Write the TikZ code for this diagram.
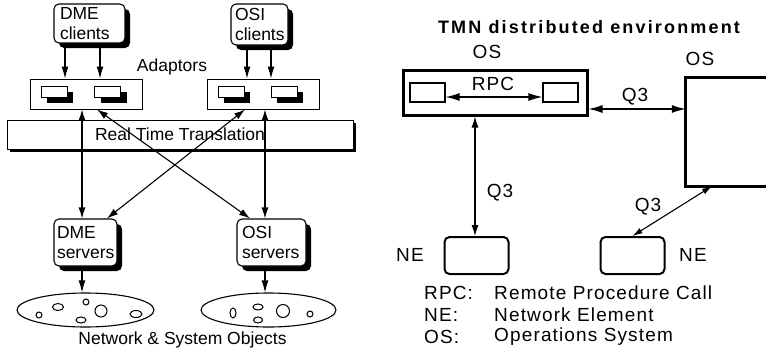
\documentclass[tikz,border=0pt]{standalone}
\usepackage{fontspec}
\setmainfont{Liberation Sans}
\newfontfamily\spaced[LetterSpace=6]{Liberation Sans}
\usetikzlibrary{arrows.meta,shadows,shapes.geometric}

\tikzset{
  lefttext/.style={font=\fontsize{17.5}{19.5}\selectfont},
  righttext/.style={font=\spaced\fontsize{19}{22}\selectfont},
  shadowbox/.style={draw, fill=white, rounded corners=5pt, align=left,
    inner ysep=0pt, line width=1.1pt,
    drop shadow={fill=black, opacity=1, shadow xshift=5pt, shadow yshift=-5pt}},
  adaptor/.style={draw, fill=white, line width=0.9pt, minimum width=112, minimum height=30},
  plug/.style={draw, fill=white, line width=1pt, minimum width=26, minimum height=11, inner sep=0pt,
    drop shadow={fill=black, opacity=1, shadow xshift=6pt, shadow yshift=-6pt, rounded corners=0pt}},
  objset/.style={draw, ellipse, line width=1.1pt, inner sep=0pt},
  osbox/.style={draw, line width=3pt, inner sep=0pt},
  oswide/.style={line width=3pt, line cap=rect},
  nebox/.style={draw, line width=2pt, rounded corners=5pt, inner sep=0pt, minimum width=64, minimum height=37},
  rpcbox/.style={draw, line width=1.1pt, minimum width=35, minimum height=19, inner sep=0pt},
  arr/.style={line width=1.1pt, -{Latex[length=12pt,width=7pt]}},
  darr/.style={line width=1.1pt, {Latex[length=11pt,width=7pt]}-{Latex[length=11pt,width=7pt]}},
  warr/.style={line width=1.3pt, {Latex[length=14pt,width=8pt]}-{Latex[length=14pt,width=8pt]}},
}

\begin{document}
\begin{tikzpicture}[x=1pt, y=-1pt]
\useasboundingbox (0,0) rectangle (766,354);
\clip (0,0) rectangle (766,354);

% ---------- DME / OSI integration ----------
\node[shadowbox, lefttext, minimum height=39, inner xsep=6pt, text width=59] (dmec) at (89.5,23.5) {DME\\clients};
\node[shadowbox, lefttext, minimum height=41, inner xsep=4pt, text width=49] (osic) at (259.5,24.5) {OSI\\clients};

\node[lefttext] (adlbl) at (172,67) {Adaptors};

\node[draw, fill=white, line width=0.9pt, minimum width=346, minimum height=29, lefttext,
  drop shadow={fill=black, opacity=1, shadow xshift=3pt, shadow yshift=-3pt}] (rtt) at (180,134.5) {Real Time Translation};

\node[adaptor] (adl) at (86,94) {};
\node[adaptor] (adr) at (263,94) {};
\node[plug] (p1) at (54,91.5) {};
\node[plug] (p2) at (107.5,91.5) {};
\node[plug] (p3) at (231,91.5) {};
\node[plug] (p4) at (284,91.5) {};

\node[shadowbox, lefttext, minimum height=47, inner xsep=3pt, text width=57] (dmes) at (85.5,242.5) {DME\\servers};
\node[shadowbox, lefttext, minimum height=47, inner xsep=5pt, text width=59] (osis) at (271.5,242.5) {OSI\\servers};

\node[objset, minimum width=137, minimum height=34] (objl) at (85.5,310) {};
\node[objset, minimum width=135, minimum height=34] (objr) at (268.5,310) {};

% objects inside the two sets
\begin{scope}[line width=1pt]
  \draw (39,315) circle [radius=3];
  \draw (58,307) ellipse [x radius=5.5, y radius=3.5];
  \draw (86,302) circle [radius=3];
  \draw (101,311) circle [radius=6];
  \draw (81,320) ellipse [x radius=5, y radius=3];
  \draw (136,314) ellipse [x radius=6, y radius=3.5];
  \draw (233,313) ellipse [x radius=3, y radius=5];
  \draw (258,307) ellipse [x radius=5, y radius=3];
  \draw (258,320) ellipse [x radius=4.5, y radius=3];
  \draw (283,311) circle [radius=6.5];
  \draw (310,314) circle [radius=3];
\end{scope}

\node[lefttext] (objlbl) at (182.5,340) {Network \& System Objects};

% clients to adaptors
\draw[arr] ([xshift=-24.5pt]dmec.south) -- ([xshift=-24.5pt]dmec.south |- adl.north);
\draw[arr] ([xshift=10.5pt]dmec.south) -- ([xshift=10.5pt]dmec.south |- adl.north);
\draw[arr] ([xshift=-12.5pt]osic.south) -- ([xshift=-12.5pt]osic.south |- adr.north);
\draw[arr] ([xshift=11.5pt]osic.south) -- ([xshift=11.5pt]osic.south |- adr.north);

% adaptors to servers, through the translation layer
\draw[darr] ([xshift=-3.5pt]dmes.north) -- ([xshift=-3.5pt]dmes.north |- adl.south);
\draw[darr] ([xshift=-6.5pt]osis.north) -- ([xshift=-6.5pt]osis.north |- adr.south);
\draw[darr] ([xshift=11pt]adl.south) -- ([xshift=-21.5pt]osis.north);
\draw[darr] ([xshift=-18pt]adr.south) -- ([xshift=21.5pt]dmes.north);

% servers to managed objects
\draw[arr] ([xshift=-3.5pt]dmes.south) -- ([xshift=-3.5pt]dmes.south |- objl.north);
\draw[arr] ([xshift=-6.5pt]osis.south) -- ([xshift=-6.5pt]osis.south |- objr.north);

% ---------- TMN distributed environment ----------
\node[font=\fontsize{18}{22}\selectfont\bfseries\addfontfeature{LetterSpace=12}] (title) at (589,27) {TMN distributed environment};

\node[righttext] (oslbla) at (487,52) {OS};
\node[righttext] (oslblb) at (700,59) {OS};

\node[osbox, minimum width=184, minimum height=45] (os1) at (495,92.5) {};
% second OS runs on past the right margin: its top, left and bottom sides only
\node[inner sep=0pt, minimum width=120, minimum height=108] (os2) at (746,132) {};
\draw[oswide] (os2.north west) -- (os2.north east);
\draw[oswide] (os2.north west) -- (os2.south west);
\draw[oswide] (os2.south west) -- (os2.south east);

\node[rpcbox] (rb1) at (427.5,92.5) {};
\node[rpcbox] (rb2) at (560.5,92.5) {};
\node[righttext] (rpclbl) at (493,84) {RPC};
\draw[warr] ([yshift=-4.5pt]rb1.east) -- ([yshift=-4.5pt]rb2.west);

\draw[warr] ([yshift=-16.5pt]os1.east) -- ([yshift=-16.5pt]os1.east -| os2.west);
\node[righttext] (q3a) at (635,97) {Q3};

\node[nebox] (ne1) at (476.5,255.5) {};
\node[nebox] (ne2) at (632.5,255.5) {};
\node[righttext] (nelbla) at (410,255) {NE};
\node[righttext] (nelblb) at (693,255) {NE};

\draw[darr] ([xshift=-1.5pt]ne1.north |- os1.south) -- ([xshift=-1.5pt]ne1.north);
\node[righttext] (q3b) at (500,193) {Q3};

\draw[line width=1.1pt, {Latex[length=10pt,width=6pt]}-{Latex[length=10pt,width=6pt]}] (ne2.north) -- ([xshift=-34pt]os2.south);
\node[righttext] (q3c) at (648,207) {Q3};

% legend
\begin{scope}[every node/.style={righttext, anchor=west, inner sep=0pt}]
  \node (k1) at (424,293) {RPC:};
  \node (k2) at (424,315) {NE:};
  \node (k3) at (424,337) {OS:};
  \node (v1) at (494,293) {Remote Procedure Call};
  \node (v2) at (494,315) {Network Element};
  \node (v3) at (494,337) {Operations System};
\end{scope}
\end{tikzpicture}
\end{document}
